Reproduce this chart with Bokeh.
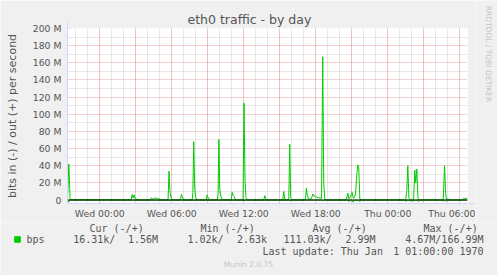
import math
from bokeh.plotting import figure
from bokeh.layouts import column, row
from bokeh.models import (Range1d, FixedTicker, Grid, Span, Label, Legend, LegendItem,
                          Arrow, NormalHead, ColumnDataSource)
from bokeh.embed import file_html
from bokeh.resources import INLINE

# ---------------- data (hours from Wed 00:00, values in Mbit/s) ----------------
hours = [
    -2.69, -2.58, -2.47,
    2.62, 2.70, 2.78, 2.86, 2.95, 3.10, 3.30,
    4.20, 4.30, 4.40, 4.55, 4.68, 4.80, 4.90, 5.00,
    5.69, 5.77, 5.85, 5.95, 6.10,
    6.72, 6.81, 6.90, 7.00,
    7.70, 7.76, 7.83, 7.91, 8.00, 8.10,
    8.87, 8.95, 9.03, 9.15,
    9.80, 9.86, 9.92, 10.00, 10.10, 10.20,
    10.95, 11.03, 11.12, 11.20, 11.30,
    11.94, 12.02, 12.10, 12.18, 12.30,
    13.67, 13.75, 13.83, 13.95,
    15.25, 15.33, 15.42, 15.75, 15.83, 15.91, 16.00,
    17.14, 17.22, 17.30, 17.40, 17.60, 17.78, 17.88, 17.98, 18.10, 18.30, 18.48,
    18.58, 18.66, 18.75, 18.90,
    20.55, 20.67, 20.76, 20.85, 20.95, 21.03, 21.12, 21.22, 21.32, 21.42, 21.50, 21.58, 21.67, 21.78, 21.90,
    25.40, 25.50, 25.58, 25.67, 25.76, 25.85, 25.95, 26.15, 26.25, 26.33, 26.42, 26.52, 26.65,
    28.50, 28.62, 28.73, 28.82, 28.90, 29.05, 29.20,
    30.22, 30.33, 30.42, 30.55, 30.64,
]
out_mbps = [
    1.0, 42.0, 0.5,
    0.1, 6.4, 2.5, 6.0, 1.5, 0.8, 0.1,
    0.1, 2.5, 1.0, 2.0, 2.6, 1.2, 2.3, 0.1,
    0.1, 33.5, 9.0, 2.0, 0.1,
    0.1, 6.4, 3.0, 0.1,
    0.1, 9.0, 68.0, 14.0, 3.0, 0.1,
    0.1, 6.0, 2.5, 0.1,
    0.1, 8.0, 70.5, 12.0, 4.0, 0.1,
    0.1, 9.0, 5.0, 4.0, 0.1,
    0.1, 113.0, 25.0, 3.0, 0.1,
    0.1, 5.0, 1.5, 0.1,
    0.1, 10.0, 0.3, 0.3, 65.0, 3.0, 0.1,
    0.1, 14.0, 5.0, 1.0, 1.0, 7.0, 4.0, 5.0, 3.0, 2.5, 2.0,
    167.0, 20.0, 1.0, 0.1,
    0.1, 8.0, 1.0, 3.0, 6.0, 9.0, 2.0, 3.0, 8.0, 30.0, 41.0, 38.0, 1.0, 0.5, 0.1,
    0.1, 1.0, 10.0, 40.0, 2.0, 0.5, 0.1, 0.1, 35.0, 20.0, 36.0, 0.5, 0.1,
    0.1, 0.5, 40.0, 8.0, 0.5, 1.0, 0.1,
    0.1, 2.0, 1.5, 1.8, 1.56,
]
in_mbps = [
    0.05, 2.5, 0.05,
    0.02, 0.1, 0.05, 0.1, 0.05, 0.02, 0.02,
    0.02, 0.05, 0.02, 0.05, 0.05, 0.02, 0.05, 0.02,
    0.02, 0.3, 0.1, 0.05, 0.02,
    0.02, 0.1, 0.05, 0.02,
    0.02, 0.1, 0.5, 0.1, 0.05, 0.02,
    0.02, 0.1, 0.05, 0.02,
    0.02, 0.1, 0.5, 0.1, 0.05, 0.02,
    0.02, 0.1, 0.05, 0.05, 0.02,
    0.02, 0.8, 0.2, 0.05, 0.02,
    0.02, 0.05, 0.02, 0.02,
    0.02, 0.1, 0.02, 0.02, 0.5, 1.2, 0.02,
    0.02, 0.1, 0.05, 0.02, 0.02, 0.05, 0.05, 0.05, 0.05, 0.05, 0.05,
    1.0, 0.2, 0.02, 0.02,
    0.02, 0.1, 2.0, 0.1, 0.1, 0.1, 2.6, 0.1, 0.1, 0.3, 0.3, 0.3, 2.0, 0.05, 0.02,
    0.02, 1.8, 0.1, 0.3, 0.1, 1.5, 0.02, 1.8, 0.3, 0.2, 0.3, 1.8, 0.02,
    0.02, 1.5, 0.3, 0.1, 1.5, 0.05, 0.02,
    0.02, 0.02, 0.02, 0.02, 0.016,
]
assert len(hours) == len(out_mbps) == len(in_mbps)

x_label_hours = [0, 6, 12, 18, 24, 30]
x_labels = ["Wed 00:00", "Wed 06:00", "Wed 12:00", "Wed 18:00", "Thu 00:00", "Thu 06:00"]
x_major_grid = [0, 3, 6, 9, 12, 15, 18, 21, 24, 27, 30]
x_minor_grid = list(range(-2, 31))
y_ticks = [0, 20, 40, 60, 80, 100, 120, 140, 160, 180, 200]
y_labels = ["0", "20 M", "40 M", "60 M", "80 M", "100 M", "120 M", "140 M", "160 M", "180 M", "200 M"]
y_minor_grid = [10, 30, 50, 70, 90, 110, 130, 150, 170, 190]

legend_headers = ["Cur (-/+)", "Min (-/+)", "Avg (-/+)", "Max (-/+)"]
legend_in = ["16.31k/", "1.02k/", "111.03k/"]       # followed by the out values
legend_out = ["1.56M", "2.63k", "2.99M"]
legend_max = "4.67M/166.99M"
series_name = "bps"
last_update_a = "Last update: Thu Jan"
last_update_b = "1 01:00:00 1970"
watermark = "Munin 2.0.75"
side_text = "RRDTOOL / TOBI OETIKER"
title_text = "eth0 traffic - by day"
y_title = "bits in (-) / out (+) per second"

# ---------------- styles ----------------
GREEN = "#00CC00"
FONT_C = "#555555"
AXIS_C = "#CFD6F8"
BG = "#F0F0F0"
SANS = "DejaVu Sans"
MONO = "DejaVu Sans Mono"

X0 = -2.69
X1 = X0 + 400 * 300 / 3600.0

TOP_H = 222      # height of the chart row
SIDE_W = 22      # width of the right strip with the vertical credit
W = 497
H = 275

p = figure(width=W - SIDE_W, height=TOP_H, output_backend="svg", toolbar_location=None,
           x_range=Range1d(X0, X1), y_range=Range1d(-4.08, 200),
           min_border_left=67, min_border_right=8, min_border_top=28, min_border_bottom=19,
           background_fill_color="white", border_fill_color=BG,
           outline_line_color=None)

# title
p.title.text = title_text
p.title.align = "left"
p.title.offset = 120
p.title.text_font = SANS
p.title.text_font_size = "12.5px"
p.title.text_font_style = "normal"
p.title.text_color = FONT_C
p.title.standoff = 3

# axes
xa = p.xaxis[0]
xa.ticker = FixedTicker(ticks=x_label_hours)
xa.major_label_overrides = {h: l for h, l in zip(x_label_hours, x_labels)}
ya = p.yaxis[0]
ya.ticker = FixedTicker(ticks=y_ticks)
ya.major_label_overrides = {t: l for t, l in zip(y_ticks, y_labels)}
ya.axis_label = y_title
ya.axis_label_standoff = 11
ya.axis_label_text_font = SANS
ya.axis_label_text_font_size = "11px"
ya.axis_label_text_font_style = "normal"
ya.axis_label_text_color = FONT_C
for ax in (xa, ya):
    ax.axis_line_color = AXIS_C
    ax.major_tick_line_color = None
    ax.minor_tick_line_color = None
    ax.major_tick_out = 0
    ax.major_tick_in = 0
    ax.minor_tick_out = 0
    ax.minor_tick_in = 0
    ax.major_label_text_font = SANS
    ax.major_label_text_font_size = "9.3px"
    ax.major_label_text_color = FONT_C
xa.major_label_standoff = 4
ya.major_label_standoff = 6

# grids
p.xgrid.visible = False
p.ygrid.visible = False
p.add_layout(Grid(dimension=0, ticker=FixedTicker(ticks=x_minor_grid),
                  grid_line_color="#CFCFCF", grid_line_dash="1 1"))
p.add_layout(Grid(dimension=1, ticker=FixedTicker(ticks=y_minor_grid),
                  grid_line_color="#CFCFCF", grid_line_dash="1 1"))
p.add_layout(Grid(dimension=0, ticker=FixedTicker(ticks=x_major_grid),
                  grid_line_color="#E8A0A0", grid_line_dash="1 1"))
p.add_layout(Grid(dimension=1, ticker=FixedTicker(ticks=y_ticks),
                  grid_line_color="#E8A0A0", grid_line_dash="1 1"))

# data lines (in drawn negative, out positive)
src = ColumnDataSource(dict(h=hours, out=out_mbps, inn=[-v for v in in_mbps]))
p.line("h", "out", source=src, line_color=GREEN, line_width=1)
p.line("h", "inn", source=src, line_color=GREEN, line_width=1)

p.add_layout(Span(location=0, dimension="width", line_color="black", line_width=1))

# axis arrows
p.add_layout(Arrow(end=NormalHead(size=6, fill_color=AXIS_C, line_color=AXIS_C),
                   x_start=0, y_start=175, x_end=0, y_end=181,
                   start_units="screen", end_units="screen", line_color=AXIS_C))
p.add_layout(Arrow(end=NormalHead(size=6, fill_color=AXIS_C, line_color=AXIS_C),
                   x_start=400, y_start=0, x_end=408, y_end=0,
                   start_units="screen", end_units="screen", line_color=AXIS_C))

# ---- right strip: vertical credit text (coordinates = page pixels) ----
ps = figure(width=SIDE_W, height=TOP_H, output_backend="svg", toolbar_location=None,
            title=None,
            x_range=Range1d(W - SIDE_W, W), y_range=Range1d(TOP_H, 0),
            x_axis_location=None, y_axis_location=None,
            min_border=0, background_fill_color=BG, border_fill_color=BG,
            outline_line_color=None)
ps.grid.visible = False
ps.add_layout(Label(x=487.5, y=53.5, text=side_text, text_align="center",
                    text_baseline="middle", text_font=SANS, text_font_size="7.5px",
                    text_color="#C4C4C4", angle=-math.pi / 2))

# ---- bottom strip: legend and statistics (coordinates = page pixels) ----
pl = figure(width=W, height=H - TOP_H, output_backend="svg", toolbar_location=None,
            title=None,
            x_range=Range1d(0, W), y_range=Range1d(H, TOP_H),
            x_axis_location=None, y_axis_location=None,
            min_border=0, background_fill_color=BG, border_fill_color=BG,
            outline_line_color=None)
pl.grid.visible = False

# legend swatch renderer (its point lies outside the strip, only the legend key shows)
swatch = pl.scatter(x=[-50], y=[-50], marker="square", size=6,
                    fill_color=GREEN, line_color=GREEN)
leg = Legend(items=[LegendItem(label=series_name, renderers=[swatch])],
             location=(9.5, (H - 239.3) - 7), padding=0, margin=0, spacing=0,
             glyph_width=14, glyph_height=14, label_height=14, label_standoff=3,
             border_line_color=None, background_fill_alpha=0,
             label_text_font=MONO, label_text_font_size="10px", label_text_color=FONT_C)
pl.add_layout(leg)


def lab(text, x, y, align="left", font=MONO, size="10px", color=FONT_C):
    pl.add_layout(Label(x=x, y=y, text=text, text_align=align, text_baseline="middle",
                        text_font=font, text_font_size=size, text_color=color))


for t, x in zip(legend_headers, [89, 200, 312, 423]):
    lab(t, x, 228.3)
for t, x in zip(legend_in, [72.7, 187, 283]):
    lab(t, x, 239.3)
for t, x in zip(legend_out, [157.5, 266.5, 375]):
    lab(t, x, 239.3, align="right")
lab(legend_max, 483, 239.3, align="right")
lab(last_update_a, 262, 251)
lab(last_update_b, 483, 251, align="right")
lab(watermark, 248, 264, align="center", font=SANS, size="7.5px", color="#C4C4C4")

# the nested column keeps the credit strip's frame independent of the chart frame
layout = column(row(p, column(ps, spacing=0), spacing=0), pl, spacing=0)
open("out.html", "w").write(file_html(layout, INLINE))
